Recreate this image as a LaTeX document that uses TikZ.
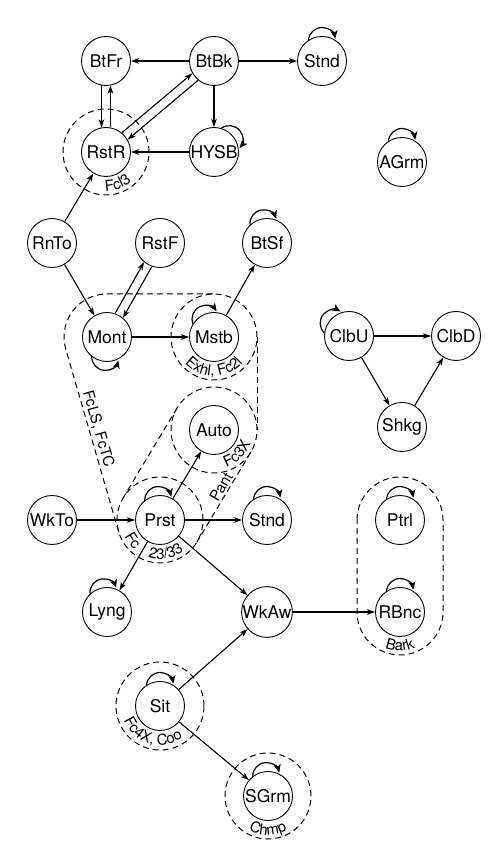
\documentclass[tikz,border=0pt]{standalone}
\usepackage{fontspec}
\setmainfont{TeX Gyre Heros}
\usetikzlibrary{arrows.meta,calc,decorations.text}
\newcommand\lblfont{\fontsize{15pt}{15pt}\selectfont}
\tikzset{
  st/.style={circle, draw, line width=0.9pt, minimum size=49pt, inner sep=0pt, font=\fontsize{17.5}{17.5}\selectfont},
  edge/.style={-{Stealth[length=8pt,width=5.5pt,inset=2pt]}, line width=1.1pt},
  pedge/.style={edge, shorten <=24.5pt, shorten >=24.5pt},
  selfloop/.style={-{Stealth[length=8pt,width=7pt,inset=2pt]}, line width=1.2pt},
  ring/.style={dash pattern=on 6pt off 4pt, line width=1pt},
  lbl/.style={font=\lblfont, inner sep=2pt},
}
\newcommand\loopcw[2]{\draw[selfloop] ($(#1)+(#2:20)+(#2+88:13.5)$) arc[start angle=#2+88, end angle=#2-80, radius=13.5];}
\newcommand\loopccw[2]{\draw[selfloop] ($(#1)+(#2:20)+(#2-88:13.5)$) arc[start angle=#2-88, end angle=#2+80, radius=13.5];}
\newcommand\ringtext[4]{{\lblfont\path[decorate,decoration={text along path,text={|\lblfont|#2},text align=center}] ($(#1)+(#3:39)$) arc[start angle=#3,end angle=#4,radius=39];}}
\begin{document}
\begin{tikzpicture}[x=1pt,y=1pt]
\fill[white] (0,0) rectangle (500,844);
\useasboundingbox (0,0) rectangle (500,844);

% nodes
\node[st] (BtFr) at (106,783) {BtFr};
\node[st] (BtBk) at (214,783) {BtBk};
\node[st] (Stnd1) at (322,783) {Stnd};
\node[st] (RstR) at (106,692) {RstR};
\node[st] (HYSB) at (214,692) {HYSB};
\node[st] (AGrm) at (402,682) {AGrm};
\node[st] (RnTo) at (52,601) {RnTo};
\node[st] (RstF) at (160,601) {RstF};
\node[st] (BtSf) at (267,601) {BtSf};
\node[st] (Mont) at (107,507) {Mont};
\node[st] (Mstb) at (214,507) {Mstb};
\node[st] (ClbU) at (349,508) {ClbU};
\node[st] (ClbD) at (456,508) {ClbD};
\node[st] (Auto) at (214,414) {Auto};
\node[st] (Shkg) at (402,417) {Shkg};
\node[st] (WkTo) at (52,324) {WkTo};
\node[st] (Prst) at (160,324) {Prst};
\node[st] (Stnd2) at (267,324) {Stnd};
\node[st] (Ptrl) at (400,324) {Ptrl};
\node[st] (Lyng) at (107,232) {Lyng};
\node[st] (WkAw) at (267,232) {WkAw};
\node[st] (RBnc) at (400,232) {RBnc};
\node[st] (Sit) at (160,138) {Sit};
\node[st] (SGrm) at (268,48) {SGrm};

% dashed rings
\draw[ring] (RstR) circle[radius=43];
\draw[ring] (Mstb) circle[radius=43];
\draw[ring] (Auto) circle[radius=43];
\draw[ring] (Prst) circle[radius=43];
\draw[ring] (Sit) circle[radius=44];
\draw[ring] (SGrm) circle[radius=43];
\draw[ring] ($(Ptrl)+(-43,0)$) arc[start angle=180,end angle=0,radius=43]
  -- ($(RBnc)+(43,0)$) arc[start angle=0,end angle=-180,radius=43] -- cycle;

% hull coordinates
\coordinate (hL1) at ($(Mont)+(196.15:43)$);
\coordinate (hL2) at ($(Prst)+(196.15:43)$);
\coordinate (hR1) at ($(Auto)+(-30.96:43)$);
\coordinate (hR2) at ($(Prst)+(-30.96:43)$);
\coordinate (pL1) at ($(Auto)+(149.04:43)$);
\coordinate (pL2) at ($(Prst)+(149.04:43)$);
\draw[ring] (hL2) -- (hL1) arc[start angle=196.15,end angle=90,radius=43] -- ($(Mstb)+(0,43)$);
\draw[ring] ($(Mstb)+(43,0)$) -- ($(Auto)+(43,0)$);
\draw[ring] (hR1) -- (hR2);
\draw[ring] (pL1) -- (pL2);
\path (hL1) -- (hL2) node[lbl, sloped, above, pos=0.45] {FcLS, FcTC};
\path (hR2) -- (hR1) node[lbl, sloped, above, pos=0.57] {Pant};

% ring labels
\ringtext{RstR}{Fcl3}{-120}{-20}
\ringtext{Mstb}{Exhl, Fc2l}{-175}{-5}
\ringtext{Auto}{Fc3X}{-100}{8}
\ringtext{Prst}{Fc}{-180}{-106}
\ringtext{Prst}{23/33}{-125}{-35}
\ringtext{Sit}{Fc4X, Coo}{-185}{-27}
\ringtext{SGrm}{Chmp}{-140}{-40}
\ringtext{RBnc}{Bark}{-140}{-40}

% edges
\draw[edge] (BtBk) -- (BtFr);
\draw[edge] (BtBk) -- (Stnd1);
\draw[edge] (BtBk) -- (HYSB);
\draw[edge] (HYSB) -- (RstR);
\draw[pedge] ($(BtFr)!4.5pt!-90:(RstR)$) -- ($(RstR)!4.5pt!90:(BtFr)$);
\draw[pedge] ($(RstR)!4.5pt!-90:(BtFr)$) -- ($(BtFr)!4.5pt!90:(RstR)$);
\draw[pedge] ($(RstR)!4.5pt!90:(BtBk)$) -- ($(BtBk)!4.5pt!-90:(RstR)$);
\draw[pedge] ($(BtBk)!4.5pt!90:(RstR)$) -- ($(RstR)!4.5pt!-90:(BtBk)$);
\draw[edge] (RnTo) -- (RstR);
\draw[edge] (RnTo) -- (Mont);
\draw[pedge] ($(Mont)!4.5pt!90:(RstF)$) -- ($(RstF)!4.5pt!-90:(Mont)$);
\draw[pedge] ($(RstF)!4.5pt!90:(Mont)$) -- ($(Mont)!4.5pt!-90:(RstF)$);
\draw[edge] (Mont) -- (Mstb);
\draw[edge] (Mstb) -- (BtSf);
\draw[edge] (ClbU) -- (ClbD);
\draw[edge] (ClbU) -- (Shkg);
\draw[edge] (Shkg) -- (ClbD);
\draw[edge] (WkTo) -- (Prst);
\draw[edge] (Prst) -- (Stnd2);
\draw[edge] (Prst) -- (Auto);
\draw[edge] (Prst) -- (Lyng);
\draw[edge] (Prst) -- (WkAw);
\draw[edge] (WkAw) -- (RBnc);
\draw[edge] (Sit) -- (WkAw);
\draw[edge] (Sit) -- (SGrm);

% self loops
\loopcw{Stnd1}{90}
\loopcw{HYSB}{40}
\loopcw{AGrm}{90}
\loopcw{BtSf}{100}
\loopcw{Mstb}{115}
\loopccw{Mont}{-95}
\loopcw{ClbU}{140}
\loopcw{Prst}{95}
\loopcw{Stnd2}{90}
\loopcw{Ptrl}{90}
\loopcw{RBnc}{90}
\loopcw{Lyng}{100}
\loopcw{Sit}{90}
\loopcw{SGrm}{95}
\end{tikzpicture}
\end{document}
